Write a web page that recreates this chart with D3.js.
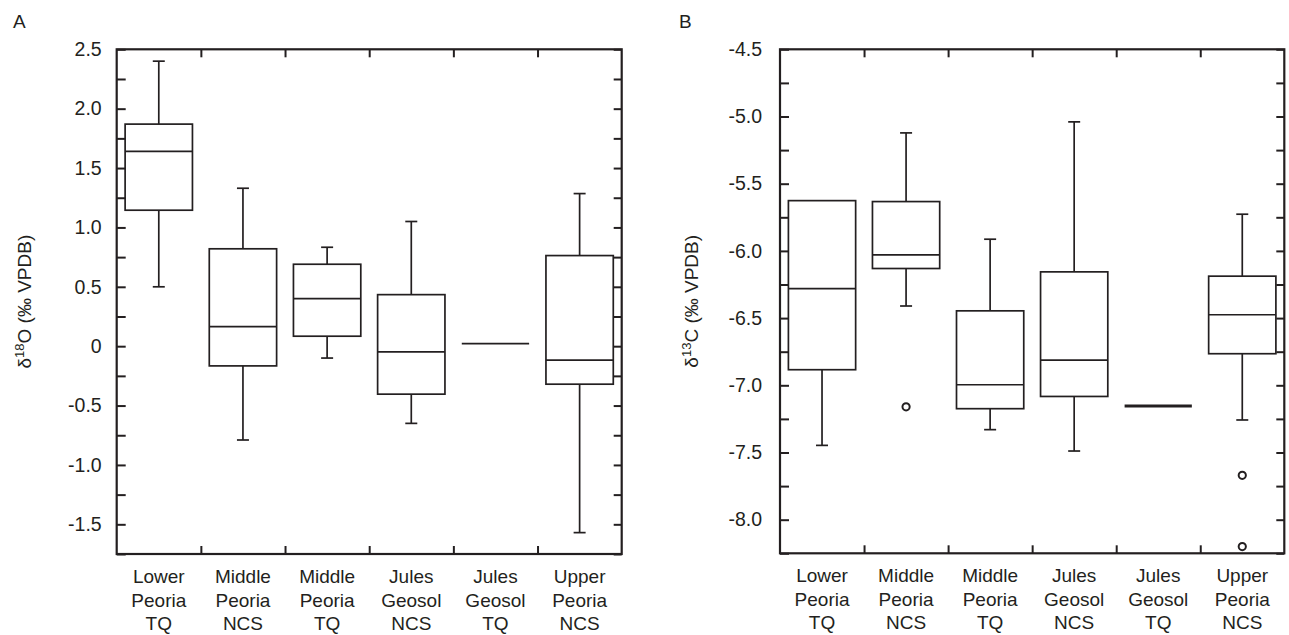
<!DOCTYPE html>
<html>
<head>
<meta charset="utf-8">
<script src="https://cdn.jsdelivr.net/npm/d3@7"></script>
<style>
  body { margin: 0; background: #fff; }
  text { font-family: "Liberation Sans", Arial, sans-serif; fill: #231f20; }
</style>
</head>
<body>
<div id="chart"></div>
<script>
// Categories (shared by both panels)
var categories = ["Lower Peoria TQ", "Middle Peoria NCS", "Middle Peoria TQ",
                  "Jules Geosol NCS", "Jules Geosol TQ", "Upper Peoria NCS"];

// Box stats per category: [low whisker, Q1, median, Q3, high whisker]
var o18Stats = [
  [0.50, 1.145, 1.64, 1.87, 2.40],
  [-0.79, -0.166, 0.165, 0.82, 1.33],
  [-0.10, 0.084, 0.40, 0.69, 0.833],
  [-0.65, -0.404, -0.048, 0.434, 1.05],
  [0.022, 0.022, 0.022, 0.022, 0.022],
  [-1.57, -0.32, -0.118, 0.763, 1.285]
];
var o18Outliers = [];
var o18Ticks = [2.5, 2.0, 1.5, 1.0, 0.5, 0, -0.5, -1.0, -1.5];

var c13Stats = [
  [-7.447, -6.884, -6.28, -5.626, -5.626],
  [-6.41, -6.131, -6.03, -5.633, -5.122],
  [-7.33, -7.174, -6.996, -6.446, -5.913],
  [-7.489, -7.083, -6.812, -6.156, -5.04],
  [-7.154, -7.154, -7.154, -7.154, -7.154],
  [-7.258, -6.765, -6.475, -6.188, -5.727]
];
// [category index, value]
var c13Outliers = [[1, -7.16], [5, -7.67], [5, -8.20]];
var c13Ticks = [-4.5, -5.0, -5.5, -6.0, -6.5, -7.0, -7.5, -8.0];

var svgWidth = 1289;
var svgHeight = 635;
var ink = "#231f20";

var svg = d3.select("#chart")
  .append("svg")
  .attr("width", svgWidth)
  .attr("height", svgHeight);

function drawPanel(p) {
  var width = p.right - p.left;
  var height = p.bottom - p.top;

  var g = svg.append("g")
    .attr("transform", `translate(${p.left}, ${p.top})`);

  var x = d3.scaleBand()
    .domain(categories)
    .range([0, width])
    .paddingInner(0.2)
    .paddingOuter(0.1);
  var step = x.step();

  var y = d3.scaleLinear()
    .domain(p.domain)
    .range([height, 0]);

  // all ticks every 0.25, labels only on majors
  var allTicks = d3.range(p.domain[0], p.domain[1] + 0.001, 0.25)
    .map(d => Math.round(d * 100) / 100);
  var fmt = d => p.ticks.some(t => Math.abs(t - d) < 1e-6) ? (d === 0 ? "0" : d.toFixed(1)) : "";

  var leftAxis = d3.axisLeft(y).tickValues(allTicks).tickFormat(fmt)
    .tickSizeInner(-9).tickSizeOuter(0).tickPadding(p.pad);
  var rightAxis = d3.axisRight(y).tickValues(allTicks).tickFormat("")
    .tickSizeInner(-8).tickSizeOuter(0);

  // boundaries between categories
  var bounds = d3.range(1, categories.length).map(i => i * step);
  var xScaleLin = d3.scaleLinear().domain([0, width]).range([0, width]);
  var topAxis = d3.axisTop(xScaleLin).tickValues(bounds).tickFormat("")
    .tickSizeInner(-8).tickSizeOuter(0);
  var bottomAxis = d3.axisBottom(xScaleLin).tickValues(bounds).tickFormat("")
    .tickSizeInner(-8).tickSizeOuter(0);

  var axes = [
    g.append("g").call(leftAxis),
    g.append("g").attr("transform", `translate(${width},0)`).call(rightAxis),
    g.append("g").call(topAxis),
    g.append("g").attr("transform", `translate(0,${height})`).call(bottomAxis)
  ];
  axes.forEach(function(a) {
    a.select(".domain").remove();
    a.selectAll(".tick line").attr("stroke", ink).attr("stroke-width", 2);
    a.selectAll(".tick text").attr("font-size", 19.5).attr("fill", ink)
      .attr("font-family", "Liberation Sans, Arial, sans-serif");
  });

  // frame
  g.append("rect")
    .attr("width", width)
    .attr("height", height)
    .attr("fill", "none")
    .attr("stroke", ink)
    .attr("stroke-width", 2.2);

  // boxes
  var bw = x.bandwidth();
  var cap = 6;
  p.stats.forEach(function(s, i) {
    var c = categories[i];
    var x0 = x(c), xm = x(c) + bw / 2;
    var bg = g.append("g").attr("stroke", ink).attr("fill", "none").attr("stroke-width", 1.7);
    if (s[1] === s[3]) {
      bg.append("line")
        .attr("x1", x0).attr("x2", x0 + bw)
        .attr("y1", y(s[2])).attr("y2", y(s[2]))
        .attr("stroke-width", p.flatWidth);
      return;
    }
    if (s[4] > s[3]) {
      bg.append("line").attr("x1", xm).attr("x2", xm).attr("y1", y(s[3])).attr("y2", y(s[4]));
      bg.append("line").attr("x1", xm - cap).attr("x2", xm + cap).attr("y1", y(s[4])).attr("y2", y(s[4]));
    }
    if (s[0] < s[1]) {
      bg.append("line").attr("x1", xm).attr("x2", xm).attr("y1", y(s[1])).attr("y2", y(s[0]));
      bg.append("line").attr("x1", xm - cap).attr("x2", xm + cap).attr("y1", y(s[0])).attr("y2", y(s[0]));
    }
    bg.append("rect")
      .attr("x", x0).attr("width", bw)
      .attr("y", y(s[3])).attr("height", y(s[1]) - y(s[3]));
    bg.append("line").attr("x1", x0).attr("x2", x0 + bw).attr("y1", y(s[2])).attr("y2", y(s[2]));
  });

  // outliers
  g.selectAll("circle.outlier")
    .data(p.outliers)
    .enter()
    .append("circle")
    .attr("class", "outlier")
    .attr("cx", d => x(categories[d[0]]) + bw / 2)
    .attr("cy", d => y(d[1]))
    .attr("r", 3.6)
    .attr("fill", "none")
    .attr("stroke", ink)
    .attr("stroke-width", 2);

  // category labels
  var labels = g.selectAll("text.cat")
    .data(categories)
    .enter()
    .append("text")
    .attr("class", "cat")
    .attr("text-anchor", "middle")
    .attr("font-size", 19)
    .attr("transform", d => `translate(${x(d) + bw / 2}, ${height + 29})`);
  labels.each(function(d) {
    var t = d3.select(this);
    d.split(" ").forEach(function(w, k) {
      t.append("tspan").attr("x", 0).attr("y", k * 23.5).text(w);
    });
  });

  // y axis title
  var title = svg.append("text")
    .attr("transform", `translate(${p.titleX}, ${p.top + height / 2}) rotate(-90)`)
    .attr("text-anchor", "middle")
    .attr("font-size", 19);
  title.append("tspan").text("\u03b4");
  title.append("tspan").attr("font-size", 13).attr("dy", -7).text(p.iso);
  title.append("tspan").attr("dy", 7).text(p.elem + " (\u2030 VPDB)");

  // panel letter
  svg.append("text")
    .attr("x", p.letterX)
    .attr("y", 28)
    .attr("font-size", 19)
    .text(p.letter);
}

drawPanel({
  left: 116.7, right: 621.7, top: 49.3, bottom: 554,
  domain: [-1.75, 2.5], ticks: o18Ticks, stats: o18Stats, outliers: o18Outliers,
  pad: 15, flatWidth: 1.7, titleX: 31, iso: "18", elem: "O", letter: "A", letterX: 13
});

drawPanel({
  left: 780, right: 1284.3, top: 49.3, bottom: 553.3,
  domain: [-8.25, -4.5], ticks: c13Ticks, stats: c13Stats, outliers: c13Outliers,
  pad: 18, flatWidth: 3, titleX: 698, iso: "13", elem: "C", letter: "B", letterX: 679
});
</script>
</body>
</html>
